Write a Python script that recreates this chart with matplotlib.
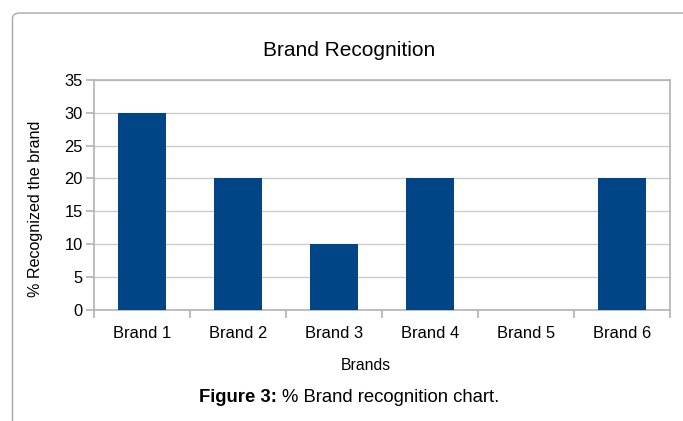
#!/usr/bin/env python3
# -*- coding: utf-8 -*-

"""
Brand recognition bar chart with figure caption.
"""

import matplotlib
matplotlib.use("Agg")
import matplotlib.pyplot as plt
from matplotlib.patches import FancyBboxPatch
import numpy as np

plt.rcParams['font.family'] = ['Liberation Sans', 'DejaVu Sans']

brands = ['Brand 1', 'Brand 2', 'Brand 3', 'Brand 4', 'Brand 5', 'Brand 6']
recognized = [30, 20, 10, 20, 0, 20]
y_ticks = [0, 5, 10, 15, 20, 25, 30, 35]

BAR_COLOR = '#004586'
GRID_COLOR = '#b3b3b3'

W, H = 683, 421
fig = plt.figure(figsize=(W / 100, H / 100), dpi=100)


def fx(px):
    return px / W


def fy(px):
    return 1 - px / H


# rounded frame around the chart (runs off the right and bottom edges)
frame = FancyBboxPatch((fx(12.5), -0.05), 1.0, (H - 13) / H + 0.05,
                       boxstyle="round,pad=0,rounding_size=0.012",
                       transform=fig.transFigure, fill=False,
                       edgecolor='#a8a8a8', linewidth=1.0)
fig.patches.append(frame)

left, right, top, bottom = 94, 670, 80, 309.5
ax = fig.add_axes([fx(left), fy(bottom), (right - left) / W, (bottom - top) / H])

x = np.arange(len(brands))
ax.bar(x, recognized, width=0.5, color=BAR_COLOR, zorder=3)

ax.set_xlim(-0.5, len(brands) - 0.5)
ax.set_ylim(0, 35)
ax.set_yticks(y_ticks)
ax.yaxis.grid(True, color='#cccccc', linewidth=1.0, zorder=0)

# category labels at centres, tick marks at the boundaries
ax.set_xticks(x)
ax.set_xticklabels(brands, fontsize=11.9)
ax.tick_params(axis='x', length=0, pad=12)
ax.set_xticks(np.arange(-0.5, len(brands)), minor=True)
ax.tick_params(axis='x', which='minor', length=6, width=1.2, color=GRID_COLOR, direction='out')
ax.tick_params(axis='y', length=6, width=1.2, color=GRID_COLOR, labelsize=11.9, pad=2)

for side in ['left', 'bottom', 'right', 'top']:
    ax.spines[side].set_color(GRID_COLOR)
    ax.spines[side].set_linewidth(1.2)

# titles placed relative to the whole figure
fig.text(fx(349), fy(50), 'Brand Recognition', ha='center', va='center', fontsize=15)
fig.text(fx(366), fy(366), 'Brands', ha='center', va='center', fontsize=11.3)
fig.text(fx(35.5), fy(209), '% Recognized the brand', ha='center', va='center',
         rotation=90, fontsize=11.6)

# caption: bold prefix followed by regular text
fig.text(fx(277), fy(398), 'Figure 3:', ha='right', va='center',
         fontsize=13.3, fontweight='bold')
fig.text(fx(282), fy(398), '% Brand recognition chart.', ha='left', va='center',
         fontsize=13.3)

fig.savefig('out.png', dpi=100)
